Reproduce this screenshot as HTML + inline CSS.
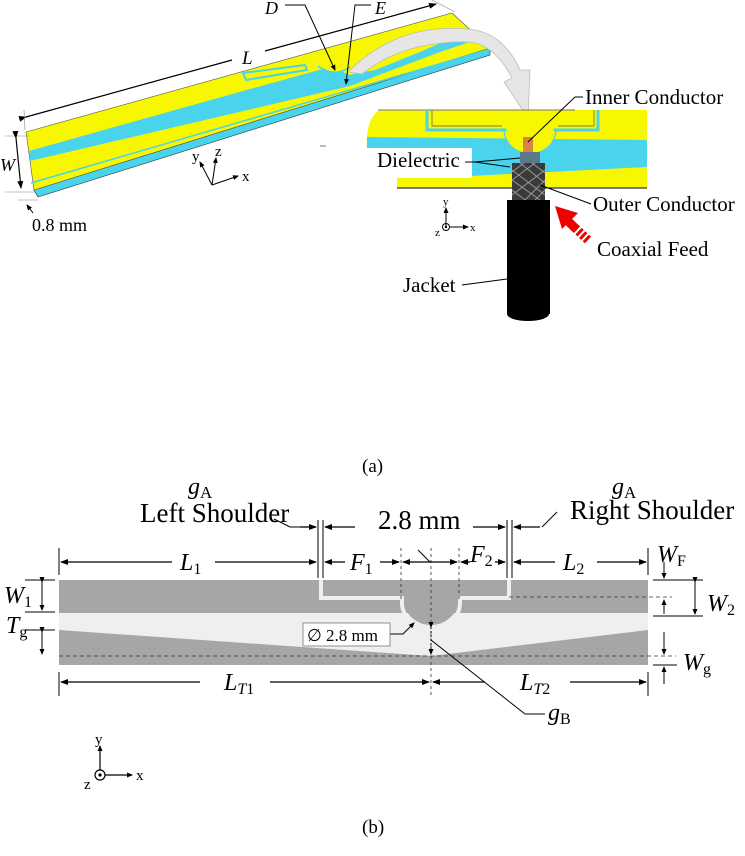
<!DOCTYPE html>
<html><head><meta charset="utf-8"><style>
html,body{margin:0;padding:0;background:#fff}
svg{display:block;font-family:"Liberation Serif",serif}
</style></head><body>
<svg width="745" height="856" viewBox="0 0 745 856" xmlns="http://www.w3.org/2000/svg">
<defs>
<marker id="a" markerWidth="8" markerHeight="6" refX="7" refY="3" orient="auto" markerUnits="userSpaceOnUse"><path d="M0,0L8,3L0,6z" fill="#000"/></marker>
<marker id="as" markerWidth="6" markerHeight="5" refX="5" refY="2.5" orient="auto" markerUnits="userSpaceOnUse"><path d="M0,0L6,2.5L0,5z" fill="#000"/></marker>
</defs>

<!-- ===== (a) 3D board ===== -->
<polygon points="34,190 490,48 490,55 38,197" fill="#49d3ec" stroke="#333" stroke-width="0.6"/>
<polygon points="26,132 452,13 490,48 34,190" fill="#f7f700" stroke="#555" stroke-width="0.6"/>
<polygon points="29,151 243,91 330,67 350,75 375,70 420,52 470,30 482,38 440,52 350,86 30,161" fill="#49d3ec"/>
<line x1="31" y1="183" x2="487" y2="50" stroke="#49d3ec" stroke-width="1.5"/>
<polygon points="243,73 305,65 307,70 246,80" fill="#f7f700" stroke="#49d3ec" stroke-width="2"/>
<path d="M318,66 Q335,78 350,67" fill="#f7f700" stroke="#49d3ec" stroke-width="1.5"/>
<path d="M348,72 Q400,20 475,30 Q505,36 520,70 L530,70 L528,118 L504,82 L512,78 Q495,45 470,42 Q405,40 362,74 Z" fill="#e6e6e6" stroke="#bbb" stroke-width="0.8"/>
<line x1="26" y1="117" x2="232" y2="60" stroke="#000" stroke-width="1.2" marker-start="url(#a)"/>
<line x1="265" y1="51" x2="436" y2="4" stroke="#000" stroke-width="1.2" marker-end="url(#a)"/>
<line x1="24" y1="110" x2="25" y2="130" stroke="#888" stroke-width="0.6"/>
<line x1="432" y1="0" x2="455" y2="12" stroke="#888" stroke-width="0.6"/>
<text x="242" y="64" font-size="19" font-style="italic">L</text>
<text x="265" y="14" font-size="18" font-style="italic">D</text>
<polyline points="285,5 305,5 335,70" fill="none" stroke="#000" stroke-width="1" marker-end="url(#as)"/>
<text x="375" y="14" font-size="18" font-style="italic">E</text>
<polyline points="371,5 355,5 346,84" fill="none" stroke="#000" stroke-width="1" marker-end="url(#as)"/>
<line x1="5" y1="136" x2="30" y2="136" stroke="#888" stroke-width="0.6"/>
<line x1="5" y1="192" x2="35" y2="192" stroke="#888" stroke-width="0.6"/>
<line x1="16" y1="138" x2="21" y2="188" stroke="#000" stroke-width="1.2" marker-start="url(#a)" marker-end="url(#a)"/>
<text x="0" y="171" font-size="18" font-style="italic">W</text>
<line x1="18" y1="200" x2="38" y2="200" stroke="#888" stroke-width="0.6"/>
<line x1="33" y1="213" x2="27" y2="205" stroke="#000" stroke-width="1" marker-end="url(#as)"/>
<text x="32" y="231" font-size="18">0.8 mm</text>
<g stroke="#000" stroke-width="1" fill="none">
<line x1="212" y1="185" x2="238" y2="176" marker-end="url(#as)"/>
<line x1="212" y1="185" x2="200" y2="162" marker-end="url(#as)"/>
<line x1="212" y1="185" x2="216" y2="158" marker-end="url(#as)"/>
</g>
<text x="242" y="181" font-size="15">x</text>
<text x="192" y="161" font-size="15">y</text>
<text x="215" y="156" font-size="15">z</text>
<line x1="320" y1="146" x2="326" y2="146" stroke="#777"/>

<!-- inset -->
<path d="M380,110 L647,110 L647,188 L397,188 L397,178 L367,150 Q365,118 380,110 Z" fill="#f7f700"/>
<polygon points="367,137 647,140 647,167 470,176 367,176" fill="#49d3ec"/>
<polygon points="397,178 470,176 512,184 397,188" fill="#f7f700"/>
<polygon points="545,184 647,167 647,180 545,186" fill="#f7f700"/>
<line x1="378" y1="110" x2="575" y2="110" stroke="#777" stroke-width="1"/>
<line x1="397" y1="188" x2="647" y2="188" stroke="#000" stroke-width="1"/>
<path d="M427,110 L427,130 L505,130 A25,22 0 0 0 555,130 L598,130 L598,110" fill="none" stroke="#49d3ec" stroke-width="3"/>
<path d="M432,110 L432,126 L502,126 M558,126 L594,126 L594,110" fill="none" stroke="#555" stroke-width="0.7"/>
<path d="M505,131 A25,22 0 0 0 555,131 Z" fill="#f7f700"/>
<rect x="360" y="148" width="112" height="30" fill="#fff"/>
<rect x="523" y="137" width="10" height="16" fill="#d9824c"/>
<rect x="520" y="152" width="20" height="12" fill="#5a7a8c"/>
<rect x="512" y="163" width="33" height="37" fill="#3a3a3a"/>
<path d="M512,170 L545,195 M512,180 L540,200 M512,190 L525,200 M520,163 L545,183 M532,163 L545,173 M545,170 L512,195 M545,180 L525,200 M545,190 L535,200 M535,163 L512,180 M524,163 L512,172" stroke="#999" stroke-width="1"/>
<rect x="507" y="200" width="43" height="114" fill="#000"/>
<ellipse cx="528" cy="314" rx="21" ry="7" fill="#000"/>
<line x1="588" y1="240" x2="573" y2="226" stroke="#e00" stroke-width="9" stroke-dasharray="3,2"/>
<line x1="575" y1="228" x2="565" y2="218" stroke="#e00" stroke-width="9"/>
<polygon points="555,206 578,213 562,229" fill="#e00"/>
<g font-size="21">
<text x="585" y="104">Inner Conductor</text>
<text x="377" y="167">Dielectric</text>
<text x="593" y="211">Outer Conductor</text>
<text x="597" y="256">Coaxial Feed</text>
<text x="403" y="292">Jacket</text>
</g>
<g stroke="#000" stroke-width="1" fill="none">
<polyline points="583,97 575,97 528,142"/>
<polyline points="465,162 475,162 520,158"/>
<line x1="475" y1="162" x2="510" y2="167"/>
<line x1="591" y1="204" x2="540" y2="185"/>
<line x1="462" y1="285" x2="507" y2="279"/>
<line x1="446" y1="227" x2="446" y2="208" marker-end="url(#as)"/>
<line x1="450" y1="227" x2="468" y2="227" marker-end="url(#as)"/>
<circle cx="446" cy="227" r="3.5"/>
</g>
<circle cx="446" cy="227" r="1.2" fill="#000"/>
<text x="443" y="205" font-size="11">y</text>
<text x="470" y="231" font-size="11">x</text>
<text x="435" y="236" font-size="11">z</text>

<text x="362" y="472" font-size="19">(a)</text>

<!-- ===== (b) ===== -->
<rect x="59" y="580" width="589" height="35" fill="#a6a6a6"/>
<rect x="59" y="613" width="589" height="52" fill="#efefef"/>
<polygon points="59,630 431,656 648,630 648,665 59,665" fill="#a6a6a6"/>
<path d="M321,580 L321,598 L402,598 L402,603 A29,25 0 0 0 460,603 L460,598 L509,598 L509,580" fill="none" stroke="#efefef" stroke-width="4"/>
<path d="M404,600 A27,25 0 0 0 458,600 Z" fill="#a6a6a6"/>
<line x1="59" y1="656" x2="676" y2="656" stroke="#333" stroke-width="0.8" stroke-dasharray="4,3"/>
<line x1="509" y1="597" x2="672" y2="597" stroke="#333" stroke-width="0.8" stroke-dasharray="4,3"/>
<g stroke="#333" stroke-width="0.8" stroke-dasharray="3,3">
<line x1="401" y1="548" x2="401" y2="600"/>
<line x1="459" y1="548" x2="459" y2="600"/>
<line x1="431" y1="548" x2="431" y2="698"/>
</g>
<g stroke="#000" stroke-width="1" fill="none">
<line x1="59" y1="548" x2="59" y2="575"/><line x1="648" y1="548" x2="648" y2="575"/>
<line x1="59" y1="672" x2="59" y2="696"/><line x1="648" y1="672" x2="648" y2="696"/>
<line x1="318" y1="520" x2="318" y2="578"/><line x1="323" y1="520" x2="323" y2="578"/>
<line x1="507" y1="520" x2="507" y2="578"/><line x1="512" y1="520" x2="512" y2="578"/>
</g>
<g stroke="#000" stroke-width="1.3" fill="none">
<line x1="172" y1="562" x2="61" y2="562" marker-end="url(#a)"/>
<line x1="215" y1="562" x2="316" y2="562" marker-end="url(#a)"/>
<line x1="345" y1="562" x2="325" y2="562" marker-end="url(#a)"/>
<line x1="380" y1="562" x2="399" y2="562" marker-end="url(#a)"/>
<line x1="430" y1="562" x2="403" y2="562" marker-end="url(#a)"/>
<line x1="430" y1="562" x2="457" y2="562" marker-end="url(#a)"/>
<line x1="470" y1="562" x2="461" y2="562" marker-end="url(#a)"/>
<line x1="495" y1="562" x2="505" y2="562" marker-end="url(#a)"/>
<line x1="555" y1="562" x2="514" y2="562" marker-end="url(#a)"/>
<line x1="597" y1="562" x2="646" y2="562" marker-end="url(#a)"/>
<line x1="300" y1="527" x2="316" y2="527" marker-end="url(#a)"/>
<line x1="355" y1="527" x2="325" y2="527" marker-end="url(#a)"/>
<line x1="473" y1="527" x2="505" y2="527" marker-end="url(#a)"/>
<line x1="540" y1="527" x2="514" y2="527" marker-end="url(#a)"/>
<line x1="200" y1="682" x2="61" y2="682" marker-end="url(#a)"/>
<line x1="270" y1="682" x2="429" y2="682" marker-end="url(#a)"/>
<line x1="485" y1="682" x2="433" y2="682" marker-end="url(#a)"/>
<line x1="570" y1="682" x2="646" y2="682" marker-end="url(#a)"/>
</g>
<g stroke="#000" stroke-width="1" fill="none">
<polyline points="274,519 290,527 300,527"/>
<polyline points="557,512 542,527"/>
<line x1="418" y1="550" x2="430" y2="562"/>
<line x1="431" y1="627" x2="431" y2="654" marker-start="url(#as)" marker-end="url(#as)" stroke-dasharray="2,2"/>
<polyline points="390,634 403,634 414,623" marker-end="url(#as)"/>
<polyline points="545,714 525,714 431,640"/>
<line x1="25" y1="580" x2="55" y2="580"/><line x1="25" y1="612" x2="55" y2="612"/>
<line x1="42" y1="582" x2="42" y2="610" marker-start="url(#as)" marker-end="url(#as)"/>
<line x1="25" y1="630" x2="55" y2="630"/>
<line x1="42" y1="632" x2="42" y2="654" marker-start="url(#as)" marker-end="url(#as)"/>
<line x1="653" y1="580" x2="703" y2="580"/><line x1="653" y1="616" x2="703" y2="616"/>
<line x1="664" y1="562" x2="664" y2="578" marker-end="url(#as)"/>
<line x1="664" y1="614" x2="664" y2="600" marker-end="url(#as)"/>
<line x1="695" y1="582" x2="695" y2="614" marker-start="url(#as)" marker-end="url(#as)"/>
<line x1="664" y1="632" x2="664" y2="654" marker-end="url(#as)"/>
<line x1="653" y1="665" x2="677" y2="665"/>
<line x1="664" y1="684" x2="664" y2="667" marker-end="url(#as)"/>
</g>
<rect x="303" y="623" width="87" height="23" fill="#fff" stroke="#777" stroke-width="0.8"/>
<text x="307" y="641" font-size="17">∅ 2.8 mm</text>

<g font-size="27">
<text x="140" y="522">Left Shoulder</text>
<text x="570" y="519">Right Shoulder</text>
<text x="378" y="529">2.8 mm</text>
</g>
<g font-size="24" font-style="italic">
<text x="188" y="494">g<tspan font-size="17" font-style="normal" dy="4">A</tspan></text>
<text x="612" y="494">g<tspan font-size="17" font-style="normal" dy="4">A</tspan></text>
<text x="180" y="570">L<tspan font-size="16" font-style="normal" dy="4">1</tspan></text>
<text x="350" y="570">F<tspan font-size="16" font-style="normal" dy="4">1</tspan></text>
<text x="470" y="562">F<tspan font-size="16" font-style="normal" dy="4">2</tspan></text>
<text x="563" y="570">L<tspan font-size="16" font-style="normal" dy="4">2</tspan></text>
<text x="224" y="690">L<tspan font-size="16" dy="4">T</tspan><tspan font-size="16" font-style="normal">1</tspan></text>
<text x="520" y="690">L<tspan font-size="16" dy="4">T</tspan><tspan font-size="16" font-style="normal">2</tspan></text>
<text x="4" y="603">W<tspan font-size="16" font-style="normal" dy="4">1</tspan></text>
<text x="6" y="633">T<tspan font-size="16" font-style="normal" dy="4">g</tspan></text>
<text x="657" y="562">W<tspan font-size="16" font-style="normal" dy="4">F</tspan></text>
<text x="707" y="611">W<tspan font-size="16" font-style="normal" dy="4">2</tspan></text>
<text x="683" y="670">W<tspan font-size="16" font-style="normal" dy="4">g</tspan></text>
<text x="548" y="720">g<tspan font-size="16" font-style="normal" dy="4">B</tspan></text>
</g>
<g stroke="#000" stroke-width="1.2" fill="none">
<line x1="100" y1="770" x2="100" y2="746" marker-end="url(#as)"/>
<line x1="105" y1="775" x2="132" y2="775" marker-end="url(#as)"/>
<circle cx="100" cy="775" r="5"/>
</g>
<circle cx="100" cy="775" r="1.6" fill="#000"/>
<text x="95" y="744" font-size="15">y</text>
<text x="136" y="780" font-size="15">x</text>
<text x="84" y="789" font-size="15">z</text>

<text x="362" y="833" font-size="19">(b)</text>
</svg>
</body></html>
